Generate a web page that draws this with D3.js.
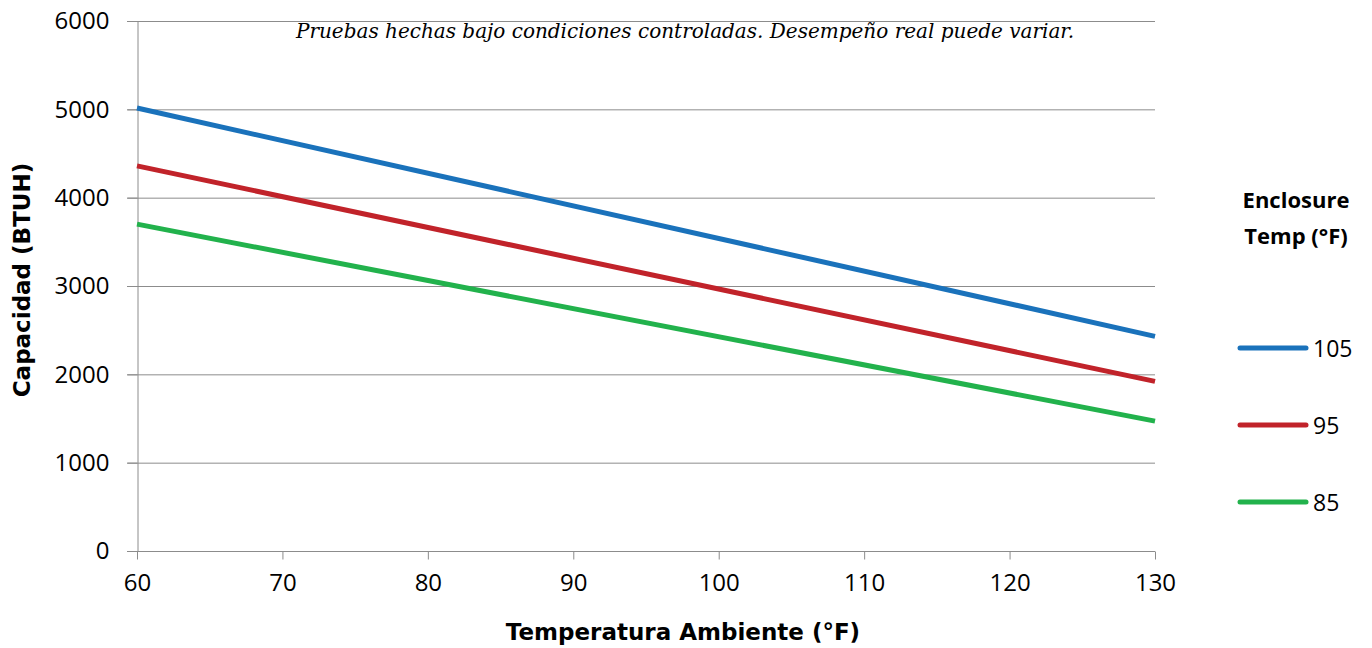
<!DOCTYPE html>
<html>
<head>
<meta charset="utf-8">
<script src="https://cdn.jsdelivr.net/npm/d3@7"></script>
<style>
body { margin: 0; background: #fff; }
svg text { font-family: "Open Sans", "Noto Sans", sans-serif; fill: #000; }
</style>
</head>
<body>
<div id="chart"></div>
<script>
// ambient temperature (°F) at each end of the measured range
const ambientTemps = [60, 130];
// capacity (BTUH) per enclosure temperature series
const series105 = [5015, 2430];
const series95 = [4360, 1920];
const series85 = [3700, 1470];
const seriesNames = ['105', '95', '85'];
const seriesColors = ['#1a72bb', '#c1232a', '#22b24c'];
const xTicks = [60, 70, 80, 90, 100, 110, 120, 130];
const yTicks = [0, 1000, 2000, 3000, 4000, 5000, 6000];

const width = 1372, height = 648;
const svg = d3.select('#chart').append('svg')
  .attr('width', width)
  .attr('height', height);

const x = d3.scaleLinear().domain([60, 130]).range([137, 1155]);
const y = d3.scaleLinear().domain([0, 6000]).range([551, 21]);

// horizontal gridlines
svg.append('g')
  .selectAll('line')
  .data(yTicks.filter(d => d > 0))
  .join('line')
  .attr('x1', x(60) - 10)
  .attr('x2', x(130))
  .attr('y1', d => y(d) + 0.5)
  .attr('y2', d => y(d) + 0.5)
  .attr('stroke', '#8c8c8c')
  .attr('stroke-width', 1);

// y axis
const yAxis = svg.append('g')
  .attr('transform', `translate(${x(60) + 0.5},0)`)
  .call(d3.axisLeft(y).tickValues(yTicks).tickFormat(d3.format('d')).tickSize(10).tickPadding(18));
yAxis.select('.domain').attr('stroke', '#8c8c8c');
yAxis.selectAll('line').attr('stroke', '#8c8c8c');
yAxis.selectAll('text').style('font-size', '24px').attr('fill', '#000');

// x axis
const xAxis = svg.append('g')
  .attr('transform', `translate(0,${y(0) + 0.5})`)
  .call(d3.axisBottom(x).tickValues(xTicks).tickSize(8).tickPadding(14).tickSizeOuter(0));
xAxis.select('.domain').attr('stroke', '#8c8c8c').attr('d', `M${x(60) - 10},0H${x(130)}`);
xAxis.selectAll('line').attr('stroke', '#8c8c8c');
xAxis.selectAll('text').style('font-size', '24px').attr('fill', '#000');

// note
svg.append('text')
  .attr('x', 685)
  .attr('y', 38)
  .attr('text-anchor', 'middle')
  .style('font-family', '"DejaVu Serif", "Liberation Serif", serif')
  .style('font-style', 'italic')
  .style('font-size', '20px')
  .text('Pruebas hechas bajo condiciones controladas. Desempeño real puede variar.');

// lines
const allSeries = [series105, series95, series85];
const line = d3.line()
  .x((d, i) => x(ambientTemps[i]))
  .y(d => y(d));

svg.append('g')
  .selectAll('path')
  .data(allSeries)
  .join('path')
  .attr('d', d => line(d))
  .attr('fill', 'none')
  .attr('stroke', (d, i) => seriesColors[i])
  .attr('stroke-width', 5);

// axis titles
svg.append('text')
  .attr('x', 683)
  .attr('y', 640)
  .attr('text-anchor', 'middle')
  .style('font-family', '"DejaVu Sans", sans-serif')
  .style('font-weight', 'bold')
  .style('font-size', '23px')
  .text('Temperatura Ambiente (°F)');

svg.append('text')
  .attr('transform', 'translate(30,280) rotate(-90)')
  .attr('text-anchor', 'middle')
  .style('font-family', '"DejaVu Sans", sans-serif')
  .style('font-weight', 'bold')
  .style('font-size', '23px')
  .text('Capacidad (BTUH)');

// legend
const legendTitle = svg.append('text')
  .attr('text-anchor', 'middle')
  .style('font-weight', 'bold')
  .style('font-size', '22px');
legendTitle.append('tspan').attr('x', 1296).attr('y', 208).text('Enclosure');
legendTitle.append('tspan').attr('x', 1296).attr('y', 244).text('Temp (°F)');

const legend = svg.append('g')
  .selectAll('g')
  .data(seriesNames)
  .join('g')
  .attr('transform', (d, i) => `translate(1240,${348 + i * 77})`);

legend.append('line')
  .attr('x1', 0)
  .attr('x2', 66)
  .attr('stroke', (d, i) => seriesColors[i])
  .attr('stroke-width', 5)
  .attr('stroke-linecap', 'round');

legend.append('text')
  .attr('x', 73)
  .attr('y', 9)
  .style('font-size', '23px')
  .text(d => d);
</script>
</body>
</html>
